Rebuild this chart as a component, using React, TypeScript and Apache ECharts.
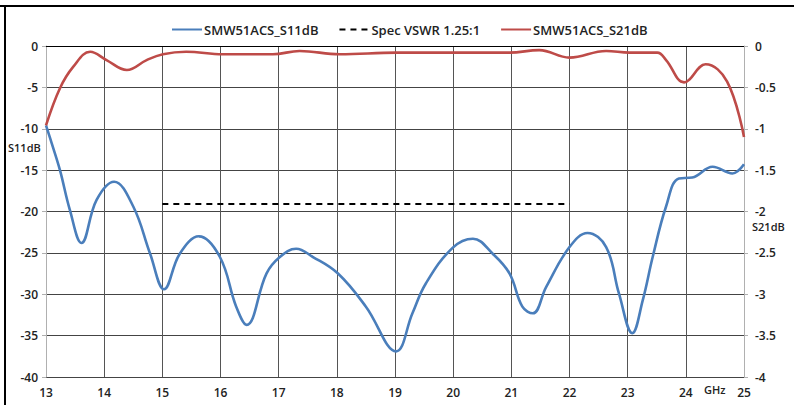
import React, { useEffect, useRef } from "react";
import * as echarts from "echarts";

const s11Freq = [13.0, 13.1, 13.24, 13.41, 13.61, 13.87, 14.17, 14.5, 14.79, 15.03, 15.3, 15.63, 15.99, 16.27, 16.45, 16.79, 17.02, 17.3, 17.59, 18.02, 18.5, 19.02, 19.3, 19.53, 19.99, 20.34, 20.68, 20.97, 21.19, 21.37, 21.6, 22.0, 22.31, 22.63, 22.85, 23.08, 23.26, 23.43, 23.66, 23.88, 24.11, 24.46, 24.8, 25.0];
const s11Values = [-9.6, -11.8, -15.0, -19.8, -23.8, -18.6, -16.4, -19.4, -25.1, -29.4, -25.1, -23.0, -25.5, -31.5, -33.7, -27.5, -25.5, -24.5, -25.5, -27.5, -31.5, -36.9, -32.3, -28.7, -24.4, -23.3, -25.1, -27.5, -31.5, -32.3, -29.1, -24.3, -22.6, -24.3, -29.9, -34.7, -30.7, -25.5, -19.4, -16.0, -15.9, -14.6, -15.4, -14.3];

const s21Freq = [13.0, 13.24, 13.47, 13.76, 14.04, 14.39, 14.73, 15.01, 15.41, 16.04, 16.9, 17.36, 18.05, 19.02, 20.0, 20.97, 21.48, 22.0, 22.63, 23.03, 23.51, 23.66, 23.97, 24.34, 24.71, 25.0];
const s21Values = [-0.96, -0.51, -0.25, -0.07, -0.17, -0.29, -0.17, -0.1, -0.07, -0.1, -0.1, -0.06, -0.1, -0.08, -0.08, -0.08, -0.05, -0.14, -0.06, -0.08, -0.08, -0.17, -0.44, -0.22, -0.43, -1.1];

const specFreq = [15, 22];
const specValues = [-19.1, -19.1];

const xTicks = { min: 13, max: 25, interval: 1 };
const leftTicks = { min: -40, max: 0, interval: 5 };
const rightTicks = { min: -4, max: 0, interval: 0.5 };

const seriesNames = ["SMW51ACS_S11dB", "Spec VSWR 1.25:1", "SMW51ACS_S21dB"];

const zip = (xs: number[], ys: number[]) => xs.map((x, i) => [x, ys[i]]);

const FONT = "Open Sans";

export default function App() {
  const ref = useRef<HTMLDivElement>(null);
  useEffect(() => {
    if (!ref.current) return;
    const chart = echarts.init(ref.current, undefined, { renderer: "svg" });
    const labelStyle = { fontFamily: FONT, fontSize: 12, fontWeight: 600, color: "#222" };
    chart.setOption({
      animation: false,
      backgroundColor: "#fff",
      grid: { left: 46, right: 50, top: 46, bottom: 28 },
      legend: {
        left: 166,
        top: 18,
        itemWidth: 30,
        itemHeight: 12,
        itemGap: 20,
        itemStyle: { opacity: 0 },
        textStyle: { fontFamily: FONT, fontSize: 13, fontWeight: 600, color: "#222", padding: [0, 0, 0, -3] },
        data: seriesNames,
      },
      graphic: [
        { type: "line", shape: { x1: 0, y1: 6, x2: 794, y2: 6 }, style: { stroke: "#000", lineWidth: 2 }, silent: true },
        { type: "line", shape: { x1: 5, y1: 6, x2: 5, y2: 405 }, style: { stroke: "#000", lineWidth: 2 }, silent: true },
        { type: "text", left: 8, top: 142, style: { text: "S11dB", font: `600 11px "${FONT}"`, fill: "#222" } },
        { type: "text", left: 752, top: 221, style: { text: "S21dB", font: `600 11px "${FONT}"`, fill: "#222" } },
        { type: "text", left: 704, top: 384, style: { text: "GHz", font: `600 11px "${FONT}"`, fill: "#222" } },
      ],
      xAxis: {
        type: "value",
        ...xTicks,
        axisLine: { show: true, lineStyle: { color: "#000", width: 1 } },
        axisTick: { show: false },
        axisLabel: { ...labelStyle, margin: 9 },
        splitLine: { show: true, showMinLine: false, showMaxLine: false, lineStyle: { color: "#555", width: 1 } },
      },
      yAxis: [
        {
          type: "value",
          ...leftTicks,
          position: "left",
          axisLine: { show: true, onZero: false, lineStyle: { color: "#b0b0b0", width: 1 } },
          axisTick: { show: true, inside: false, length: 4, lineStyle: { color: "#b0b0b0" } },
          axisLabel: { ...labelStyle, margin: 8 },
          splitLine: { show: true, lineStyle: { color: "#444", width: 1 } },
        },
        {
          type: "value",
          ...rightTicks,
          position: "right",
          axisLine: { show: true, onZero: false, lineStyle: { color: "#b0b0b0", width: 1 } },
          axisTick: { show: true, inside: false, length: 4, lineStyle: { color: "#b0b0b0" } },
          axisLabel: { ...labelStyle, margin: 11 },
          splitLine: { show: false },
        },
      ],
      series: [
        {
          name: seriesNames[0],
          type: "line",
          yAxisIndex: 0,
          data: zip(s11Freq, s11Values),
          smooth: 0.4,
          symbol: "none",
          lineStyle: { color: "#4a7ebb", width: 2.6 },
          itemStyle: { color: "#4a7ebb" },
          z: 3,
        },
        {
          name: seriesNames[1],
          type: "line",
          yAxisIndex: 0,
          data: zip(specFreq, specValues),
          symbol: "none",
          lineStyle: { color: "#000", width: 2, type: [6, 5] },
          itemStyle: { color: "#000" },
          z: 2,
        },
        {
          name: seriesNames[2],
          type: "line",
          yAxisIndex: 1,
          data: zip(s21Freq, s21Values),
          smooth: 0.4,
          symbol: "none",
          lineStyle: { color: "#be4b48", width: 2.6 },
          itemStyle: { color: "#be4b48" },
          z: 3,
        },
      ],
    });
    return () => chart.dispose();
  }, []);
  return (
    <div
      ref={ref}
      style={{ position: "fixed", left: 0, top: 0, width: 794, height: 405, background: "#fff" }}
    />
  );
}
